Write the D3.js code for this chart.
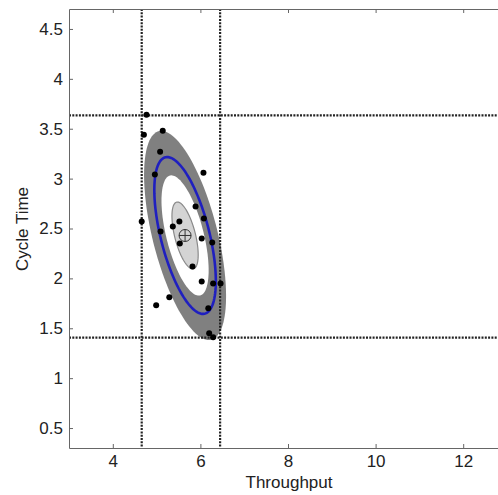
<!DOCTYPE html>
<html>
<head>
<meta charset="utf-8">
<script src="https://cdn.jsdelivr.net/npm/d3@7"></script>
<style>
    body { margin: 0; background: #fff; }
    .axis path, .axis line { stroke: #666; }
    .axis text { font-family: "Liberation Sans", Arial, sans-serif; font-size: 17px; fill: #222; }
    .axis-label { font-family: "Liberation Sans", Arial, sans-serif; font-size: 17px; fill: #222; }
</style>
</head>
<body>
<div id="chart"></div>
<script>
// Observations (throughput, cycle time)
const throughput = [4.77, 4.71, 5.14, 5.08, 4.96, 6.07, 4.66, 5.89, 6.08, 5.52, 5.37, 5.09,
    5.53, 6.03, 6.27, 5.82, 6.03, 6.29, 6.46, 5.29, 4.99, 6.18, 6.20, 6.29];
const cycleTime = [3.64, 3.44, 3.48, 3.27, 3.04, 3.06, 2.57, 2.72, 2.60, 2.57, 2.52, 2.47,
    2.35, 2.40, 2.36, 2.12, 1.97, 1.95, 1.95, 1.81, 1.73, 1.70, 1.45, 1.41];

// Mean and spread of the confidence regions
const meanPoint = [5.65, 2.43];
const spreadXY = [0.936, 1.048];  // semi-extents of outer region
const correlation = -0.58;
const regionScales = [1, 0.575, 0.32];          // dark gray, white, light gray
const regionFills = ["#808080", "#ffffff", "#d4d4d4"];
const blueScale = 0.75;

// Limit lines
const xLimits = [4.66, 6.45];
const yLimits = [3.634, 1.407];

const xTicks = [4, 6, 8, 10, 12];
const yTicks = [0.5, 1, 1.5, 2, 2.5, 3, 3.5, 4, 4.5];

const width = 498;
const height = 495;
const margin = { top: 9, left: 69, bottom: 47 };
const plotRight = 507;

const x = d3.scaleLinear().domain([3, 13]).range([margin.left, plotRight]);
const y = d3.scaleLinear().domain([0.3, 4.7]).range([height - margin.bottom, margin.top]);

const svg = d3.select("#chart")
    .append("svg")
    .attr("width", width)
    .attr("height", height);

svg.append("rect").attr("width", width).attr("height", height).attr("fill", "#fff");

const ellipsePath = (scale) => {
    const steps = d3.range(0, 121).map(i => i / 120 * 2 * Math.PI);
    const rr = Math.sqrt(1 - correlation * correlation);
    const line = d3.line()
        .x(t => x(meanPoint[0] + scale * spreadXY[0] * Math.cos(t)))
        .y(t => y(meanPoint[1] + scale * spreadXY[1] * (correlation * Math.cos(t) + rr * Math.sin(t))))
        .curve(d3.curveLinearClosed);
    return line(steps);
};

// Confidence regions
regionScales.forEach((s, i) => {
    svg.append("path")
        .attr("d", ellipsePath(s))
        .attr("fill", regionFills[i])
        .attr("stroke", i === 2 ? "#8a8a8a" : "none")
        .attr("stroke-width", 1.2);
});

svg.append("path")
    .attr("d", ellipsePath(blueScale))
    .attr("fill", "none")
    .attr("stroke", "#1f1fbf")
    .attr("stroke-width", 2.6);

// Dotted limit lines
xLimits.forEach(v => {
    svg.append("line")
        .attr("x1", x(v)).attr("x2", x(v))
        .attr("y1", y(4.7)).attr("y2", y(0.3))
        .attr("stroke", "#222")
        .attr("stroke-width", 2.2)
        .attr("stroke-dasharray", "2,1.3");
});
yLimits.forEach(v => {
    svg.append("line")
        .attr("x1", x(3)).attr("x2", width)
        .attr("y1", y(v)).attr("y2", y(v))
        .attr("stroke", "#222")
        .attr("stroke-width", 2.2)
        .attr("stroke-dasharray", "2,1.3");
});

// Data points
svg.append("g")
    .selectAll("circle")
    .data(throughput)
    .join("circle")
    .attr("cx", d => x(d))
    .attr("cy", (d, i) => y(cycleTime[i]))
    .attr("r", 3)
    .attr("fill", "#000");

// Mean marker
const mx = x(meanPoint[0]);
const my = y(meanPoint[1]);
svg.append("circle")
    .attr("cx", mx).attr("cy", my).attr("r", 6)
    .attr("fill", "none").attr("stroke", "#333").attr("stroke-width", 1);
svg.append("line")
    .attr("x1", mx - 6).attr("x2", mx + 6).attr("y1", my).attr("y2", my)
    .attr("stroke", "#333").attr("stroke-width", 1);
svg.append("line")
    .attr("x1", mx).attr("x2", mx).attr("y1", my - 6).attr("y2", my + 6)
    .attr("stroke", "#333").attr("stroke-width", 1);

// Axes
svg.append("g")
    .attr("class", "axis")
    .attr("transform", `translate(0,${y(0.3)})`)
    .call(d3.axisBottom(x).tickValues(xTicks).tickSize(-4).tickPadding(7).tickSizeOuter(0));

svg.append("g")
    .attr("class", "axis")
    .attr("transform", `translate(0,${y(4.7)})`)
    .call(d3.axisTop(x).tickValues(xTicks).tickSize(-4).tickFormat("").tickSizeOuter(0));

svg.append("g")
    .attr("class", "axis")
    .attr("transform", `translate(${x(3)},0)`)
    .call(d3.axisLeft(y).tickValues(yTicks).tickSize(-4).tickPadding(6).tickSizeOuter(0)
        .tickFormat(d => String(d)));

svg.append("text")
    .attr("class", "axis-label")
    .attr("x", 289)
    .attr("y", 488)
    .attr("text-anchor", "middle")
    .text("Throughput");

svg.append("text")
    .attr("class", "axis-label")
    .attr("transform", `translate(28,229) rotate(-90)`)
    .attr("text-anchor", "middle")
    .text("Cycle Time");
</script>
</body>
</html>
